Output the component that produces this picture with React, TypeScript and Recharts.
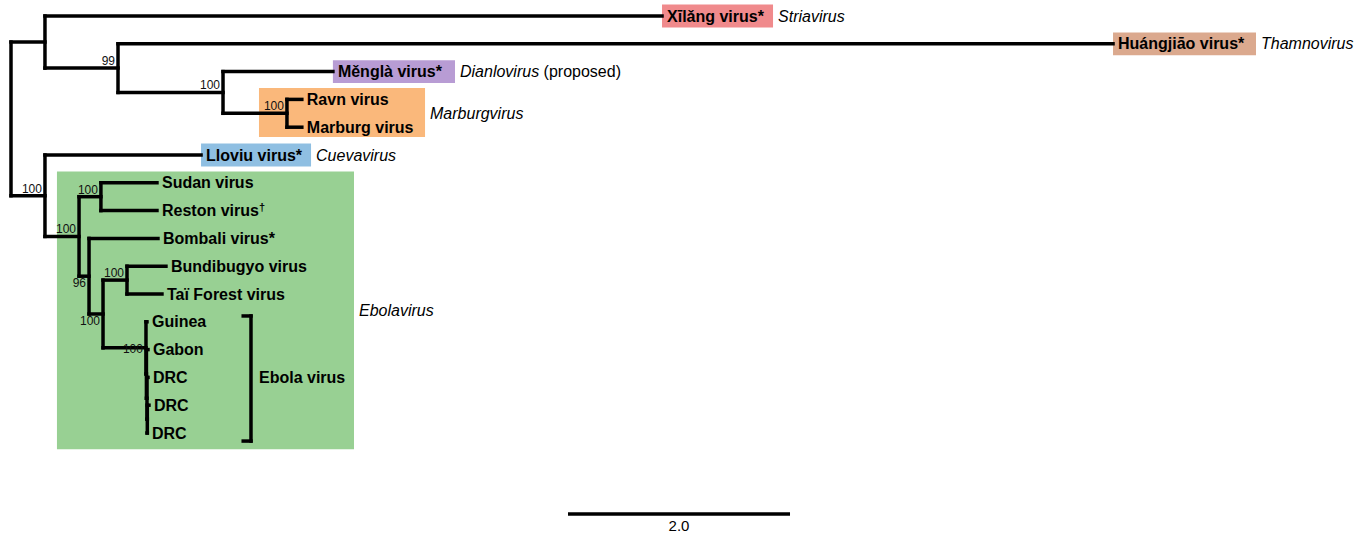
import React from 'react';
import { ScatterChart, XAxis, YAxis, Scatter, ReferenceLine, ReferenceArea } from 'recharts';

// tips, top to bottom (row = index)
const leafNames = [
  'Xīlǎng virus*', 'Huángjiāo virus*', 'Měnglà virus*', 'Ravn virus', 'Marburg virus',
  'Lloviu virus*', 'Sudan virus', 'Reston virus†', 'Bombali virus*', 'Bundibugyo virus',
  'Taï Forest virus', 'Guinea', 'Gabon', 'DRC', 'DRC', 'DRC',
];
const leafDepths = [5.865, 9.928, 2.9, 2.62, 2.62, 1.712, 1.315, 1.315, 1.324, 1.396, 1.36, 1.225, 1.234, 1.234, 1.243, 1.225];
const leafParents = ['A', 'B', 'C', 'D', 'D', 'E', 'SR', 'SR', 'G', 'BT', 'BT', 'EB', 'EB2', 'EB3', 'EB4', 'EB4'];

// internal nodes
const nodeIds = ['root', 'A', 'B', 'C', 'D', 'E', 'F', 'SR', 'G', 'H', 'BT', 'EB', 'EB2', 'EB3', 'EB4'];
const nodeParents = [null, 'root', 'A', 'B', 'C', 'root', 'E', 'F', 'F', 'G', 'H', 'H', 'EB', 'EB2', 'EB3'];
const nodeDepths = [0, 0.306, 0.964, 1.91, 2.486, 0.306, 0.613, 0.81, 0.703, 0.829, 1.045, 1.216, 1.22, 1.225, 1.228];
const nodeSupport = [null, null, '99', '100', '100', '100', '100', '100', '96', '100', '100', '100', null, null, null];

// genus boxes
const cladeNames = ['Striavirus', 'Thamnovirus', 'Dianlovirus', 'Marburgvirus', 'Cuevavirus', 'Ebolavirus'];
const cladeNotes = ['', '', ' (proposed)', '', '', ''];
const cladeFirstLeaf = [0, 1, 2, 3, 5, 6];
const cladeLastLeaf = [0, 1, 2, 4, 5, 15];
const cladeBoxLeft = [5.865, 9.928, 2.9, 2.234, 1.712, 0.414];
const cladeBoxRight = [6.865, 11.216, 4.0, 3.73, 2.703, 3.09];

const speciesName = 'Ebola virus';
const speciesFirstLeaf = 11;
const speciesLastLeaf = 15;

const scaleBarStart = 5.018;
const scaleBarLength = 2.0;

const cladeColors = ['#f08a8c', '#dba98e', '#b89cd4', '#fab87b', '#8fbfe2', '#98d093'];
const FONT = '"Liberation Sans", Arial, sans-serif';
const belowLabels = ['G', 'H'];
const levelLabels = ['EB'];

const depthOf: Record<string, number> = {};
nodeIds.forEach((id, i) => (depthOf[id] = nodeDepths[i]));

const yCache: Record<string, [number, number, number]> = {};
function nodeY(id: string): [number, number, number] {
  if (yCache[id]) return yCache[id];
  const ys: number[] = [];
  leafParents.forEach((p, i) => { if (p === id) ys.push(i); });
  nodeParents.forEach((p, i) => { if (p === id) ys.push(nodeY(nodeIds[i])[0]); });
  const lo = Math.min(...ys);
  const hi = Math.max(...ys);
  yCache[id] = [(lo + hi) / 2, lo, hi];
  return yCache[id];
}

const segments: any[] = [];
leafNames.forEach((n, i) => {
  segments.push({ x1: depthOf[leafParents[i]], y1: i, x2: leafDepths[i], y2: i });
});
nodeIds.forEach((id, i) => {
  const [y, lo, hi] = nodeY(id);
  segments.push({ x1: nodeDepths[i], y1: lo, x2: nodeDepths[i], y2: hi });
  const p = nodeParents[i];
  if (p) segments.push({ x1: depthOf[p], y1: y, x2: nodeDepths[i], y2: y });
});

const leafData = leafNames.map((n, i) => ({ x: leafDepths[i], y: i, name: n }));
const supportData = nodeIds
  .map((id, i) => ({ x: nodeDepths[i], y: nodeY(id)[0], name: nodeSupport[i], id }))
  .filter((d) => d.name);
const cladeData = cladeNames.map((n, i) => ({
  x: cladeBoxRight[i],
  y: (cladeFirstLeaf[i] - 0.41 + cladeLastLeaf[i] + (i === 5 ? 0.58 : 0.41)) / 2,
  name: n,
  note: cladeNotes[i],
}));
const bracketX = 2.162;
const speciesData = [{ x: bracketX, y: (speciesFirstLeaf + speciesLastLeaf) / 2, name: speciesName }];
const scaleData = [{ x: scaleBarStart + scaleBarLength / 2, y: 18.35, name: scaleBarLength.toFixed(1) }];

const LeafLabel = (p: any) => {
  const name: string = p.payload?.name ?? '';
  const dagger = name.endsWith('†');
  return (
    <text x={p.cx + 5} y={p.cy} dy="0.35em" fontSize={16} fontWeight="bold" fontFamily={FONT} fill="#000">
      {dagger ? name.slice(0, -1) : name}
      {dagger ? <tspan fontSize={11} dy="-0.5em">†</tspan> : null}
    </text>
  );
};

const CladeLabel = (p: any) => (
  <text x={p.cx + 5} y={p.cy} dy="0.35em" fontSize={16} fontStyle="italic" fontFamily={FONT} fill="#000">
    {p.payload?.name}
    {p.payload?.note ? <tspan fontStyle="normal">{p.payload.note}</tspan> : null}
  </text>
);

const SupportLabel = (p: any) => {
  const id = p.payload?.id;
  const dy = belowLabels.includes(id) ? 11 : levelLabels.includes(id) ? 5 : -3;
  return (
    <text x={p.cx - 3} y={p.cy + dy} fontSize={12} textAnchor="end" fontFamily={FONT} fill="#111">
      {p.payload?.name}
    </text>
  );
};

const SpeciesLabel = (p: any) => (
  <text x={p.cx + 8} y={p.cy} dy="0.35em" fontSize={16} fontWeight="bold" fontFamily={FONT} fill="#000">
    {p.payload?.name}
  </text>
);

const ScaleLabel = (p: any) => (
  <text x={p.cx} y={p.cy} dy="0.35em" fontSize={15} textAnchor="middle" fontFamily={FONT} fill="#000">
    {p.payload?.name}
  </text>
);

export default function App() {
  return (
    <div style={{ position: 'absolute', left: 0, top: 0, background: '#fff' }}>
      <ScatterChart width={1366} height={535} margin={{ top: 0, right: 0, bottom: 0, left: 0 }}>
        <XAxis type="number" dataKey="x" domain={[-0.0991, 12.207]} hide allowDataOverflow />
        <YAxis type="number" dataKey="y" domain={[-0.5755, 18.669]} reversed hide allowDataOverflow />
        {cladeNames.map((n, i) => (
          <ReferenceArea
            key={n}
            x1={cladeBoxLeft[i]}
            x2={cladeBoxRight[i]}
            y1={cladeFirstLeaf[i] - 0.41}
            y2={cladeLastLeaf[i] + (i === 5 ? 0.58 : i === 3 ? 0.35 : 0.41)}
            fill={cladeColors[i]}
            fillOpacity={1}
            stroke="none"
          />
        ))}
        {segments.map((s, i) => (
          <ReferenceLine
            key={'s' + i}
            segment={[{ x: s.x1, y: s.y1 }, { x: s.x2, y: s.y2 }]}
            stroke="#000"
            strokeWidth={3.5}
            strokeLinecap="square"
          />
        ))}
        <ReferenceLine segment={[{ x: bracketX, y: speciesFirstLeaf - 0.21 }, { x: bracketX, y: speciesLastLeaf + 0.29 }]} stroke="#000" strokeWidth={3.5} strokeLinecap="square" />
        <ReferenceLine segment={[{ x: bracketX - 0.07, y: speciesFirstLeaf - 0.21 }, { x: bracketX, y: speciesFirstLeaf - 0.21 }]} stroke="#000" strokeWidth={3.5} strokeLinecap="square" />
        <ReferenceLine segment={[{ x: bracketX - 0.07, y: speciesLastLeaf + 0.29 }, { x: bracketX, y: speciesLastLeaf + 0.29 }]} stroke="#000" strokeWidth={3.5} strokeLinecap="square" />
        <ReferenceLine segment={[{ x: scaleBarStart, y: 17.91 }, { x: scaleBarStart + scaleBarLength, y: 17.91 }]} stroke="#000" strokeWidth={3.5} />
        <Scatter data={leafData} shape={LeafLabel} isAnimationActive={false} />
        <Scatter data={cladeData} shape={CladeLabel} isAnimationActive={false} />
        <Scatter data={supportData} shape={SupportLabel} isAnimationActive={false} />
        <Scatter data={speciesData} shape={SpeciesLabel} isAnimationActive={false} />
        <Scatter data={scaleData} shape={ScaleLabel} isAnimationActive={false} />
      </ScatterChart>
    </div>
  );
}
